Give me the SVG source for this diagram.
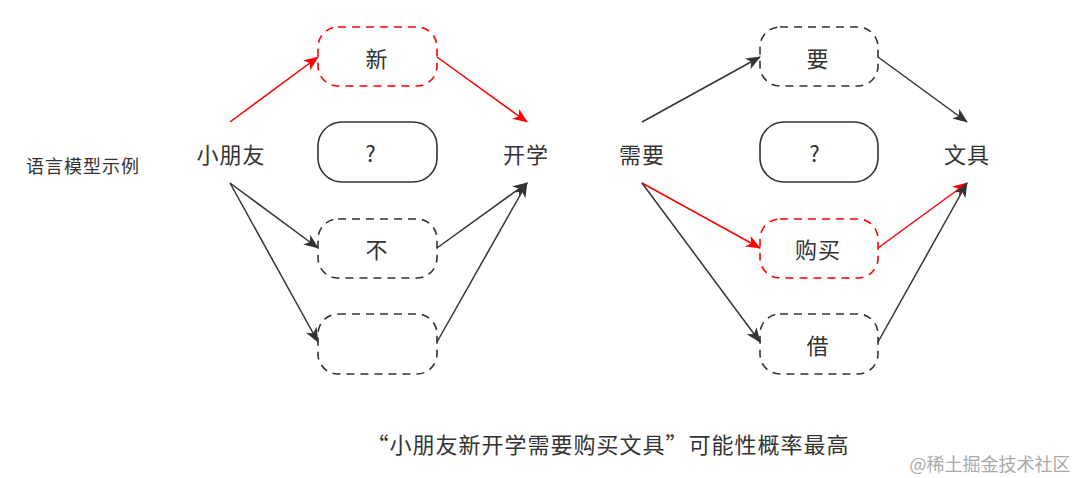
<svg xmlns="http://www.w3.org/2000/svg" width="1080" height="478" viewBox="0 0 1080 478">
<style>
text{font-family:"Noto Sans CJK SC","Noto Sans",sans-serif;fill:#333;text-anchor:middle;dominant-baseline:central}
.n{font-size:22px;letter-spacing:1px}
.b{fill:none;stroke:#333;stroke-width:1.6;stroke-dasharray:8 6}
.r{stroke:#f00}
.s{fill:none;stroke:#333;stroke-width:1.6}
.c{stroke:#333;stroke-width:1.5;fill:none;marker-end:url(#ak)}
.cr{stroke:#f00;stroke-width:1.5;fill:none;marker-end:url(#ar)}
</style>
<defs>
<marker id="ak" markerWidth="15" markerHeight="12" refX="14" refY="6" orient="auto" markerUnits="userSpaceOnUse"><path d="M0,0 L15,6 L0,12 L4,6 Z" fill="#333"/></marker>
<marker id="ar" markerWidth="15" markerHeight="12" refX="14" refY="6" orient="auto" markerUnits="userSpaceOnUse"><path d="M0,0 L15,6 L0,12 L4,6 Z" fill="#f00"/></marker>
</defs>
<rect width="1080" height="478" fill="#fff"/>
<text x="83" y="165" style="font-size:18px;letter-spacing:1px">语言模型示例</text>
<g id="xiaopengyou"><text class="n" x="231" y="153">小朋友</text></g>
<g id="kaixue"><text class="n" x="526" y="153">开学</text></g>
<g id="xuyao"><text class="n" x="642" y="153">需要</text></g>
<g id="wenju"><text class="n" x="967" y="153">文具</text></g>
<g id="xin"><rect class="b r" x="318" y="27" width="119" height="59" rx="20"/><text class="n" x="377" y="57">新</text></g>
<g id="q1"><rect class="s" x="318" y="122" width="119" height="60" rx="24"/><text class="n" x="371" y="152">?</text></g>
<g id="bu"><rect class="b" x="318" y="219" width="119" height="59" rx="20"/><text class="n" x="377" y="248">不</text></g>
<g id="empty"><rect class="b" x="318" y="314" width="119" height="60" rx="20"/></g>
<g id="yao"><rect class="b" x="760" y="27" width="118" height="59" rx="20"/><text class="n" x="818" y="57">要</text></g>
<g id="q2"><rect class="s" x="760" y="122" width="118" height="60" rx="24"/><text class="n" x="815" y="152">?</text></g>
<g id="goumai"><rect class="b r" x="760" y="219" width="118" height="59" rx="20"/><text class="n" x="818" y="248">购买</text></g>
<g id="jie"><rect class="b" x="760" y="314" width="118" height="60" rx="20"/><text class="n" x="818" y="344">借</text></g>
<g id="connectors">
<line class="cr" x1="230" y1="122" x2="318" y2="57"/>
<line class="cr" x1="437" y1="57" x2="527" y2="122"/>
<line class="c" x1="230" y1="183" x2="318" y2="248"/>
<line class="c" x1="230" y1="183" x2="318" y2="342"/>
<line class="c" x1="437" y1="248" x2="527" y2="183"/>
<line class="c" x1="437" y1="342" x2="527" y2="183"/>
<line class="c" x1="642" y1="122" x2="760" y2="57"/>
<line class="c" x1="878" y1="57" x2="967" y2="122"/>
<line class="cr" x1="642" y1="183" x2="760" y2="248"/>
<line class="c" x1="642" y1="183" x2="760" y2="342"/>
<line class="cr" x1="878" y1="248" x2="967" y2="183"/>
<line class="c" x1="878" y1="342" x2="967" y2="183"/>
</g>
<text x="608" y="443" style="font-size:22px;letter-spacing:1px">“小朋友新开学需要购买文具”可能性概率最高</text>
<text x="990" y="463" style="font-size:18px;fill:#aaa">@稀土掘金技术社区</text>
</svg>
